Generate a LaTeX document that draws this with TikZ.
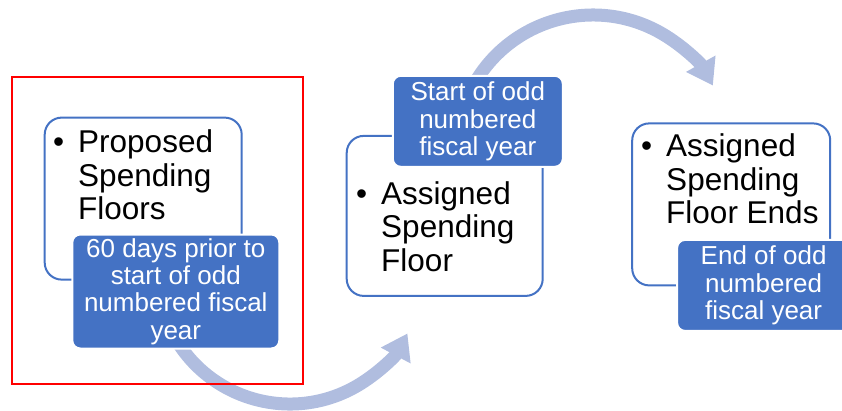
\documentclass[tikz,border=0pt]{standalone}
\usepackage{fontspec}
\setmainfont{Liberation Sans}
\usepackage{tikz}
\usetikzlibrary{arrows.meta,backgrounds}
\definecolor{StepBlue}{HTML}{4472C4}
\definecolor{FlowBlue}{HTML}{B0BDDF}

\begin{document}
\begin{tikzpicture}[x=1pt, y=-1pt,
                    box/.style={draw=StepBlue, line width=2pt, fill=white, rounded corners=17pt,
                                inner sep=0pt, outer sep=0pt},
                    tag/.style={draw=white, line width=2pt, fill=StepBlue, rounded corners=8pt,
                                text=white, align=center, inner sep=0pt, outer sep=0pt,
                                font=\fontsize{26}{27.3}\selectfont},
                    itemtext/.style={anchor=base west, inner sep=0pt,
                                     font=\fontsize{31.5}{33.5}\selectfont},
                    flow/.style={FlowBlue, line width=13pt, -{Triangle[width=32pt,length=25pt]}}]
\useasboundingbox (0,0) rectangle (842,410);
\node[box, minimum width=197pt, minimum height=162pt] (prop) at (143.2,198.6) {};
\node[box, minimum width=196pt, minimum height=160pt] (assign) at (444.7,215.9) {};
\node[box, minimum width=198pt, minimum height=162pt] (ends) at (731.2,204.4) {};
\node[itemtext] (propt) at (53,152.7)
  {\begin{tabular}[t]{@{}l@{\hspace{14pt}}l@{}}\textbullet & Proposed\\ & Spending\\ & Floors\end{tabular}};
\node[itemtext] (assignt) at (356,204)
  {\begin{tabular}[t]{@{}l@{\hspace{14pt}}l@{}}\textbullet & Assigned\\ & Spending\\ & Floor\end{tabular}};
\node[itemtext] (endst) at (641,156.7)
  {\begin{tabular}[t]{@{}l@{\hspace{14pt}}l@{}}\textbullet & Assigned\\ & Spending\\ & Floor Ends\end{tabular}};
\node[tag, minimum width=207pt, minimum height=114pt] (tag1) at (175.8,291.5)
  {60 days prior to\\start of odd\\numbered fiscal\\year};
\node[tag, minimum width=170pt, minimum height=91pt] (tag2) at (477.8,121.3)
  {Start of odd\\numbered\\fiscal year};
\node[tag, minimum width=173pt, minimum height=91pt] (tag3) at (763.6,285.4)
  {End of odd\\numbered\\fiscal year};
% curved arrows behind the boxes
\begin{pgfonlayer}{background}
\coordinate (up1) at (174.8,337.5);
\coordinate (up2) at (474.4,83.5);
\draw[flow] (up1) arc[start angle=150, end angle=28, radius=133];
\draw[flow] (up2) arc[start angle=210, end angle=331, radius=137];
\end{pgfonlayer}
\draw[red, line width=2pt] (12,77) rectangle (303.3,384);
\end{tikzpicture}
\end{document}
